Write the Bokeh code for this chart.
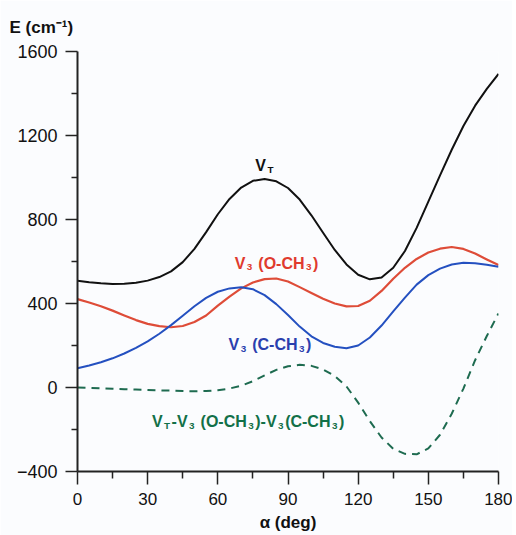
from bokeh.plotting import figure
from bokeh.models import Range1d, FixedTicker, Label, Title
from bokeh.embed import file_html
from bokeh.resources import INLINE

# ---- data ----
alpha_deg = [0, 5, 10, 15, 20, 25, 30, 35, 40, 45, 50, 55, 60, 65, 70, 75, 80, 85, 90,
             95, 100, 105, 110, 115, 120, 125, 130, 135, 140, 145, 150, 155, 160, 165,
             170, 175, 180]
v_total = [508, 501, 496, 493, 494, 499, 509, 526, 553, 597, 660, 740, 825, 898, 952,
           984, 993, 982, 950, 895, 820, 737, 655, 586, 537, 515, 524, 570, 650, 760,
           885, 1010, 1132, 1245, 1342, 1422, 1493]
v3_och3 = [421, 405, 387, 366, 343, 321, 303, 292, 287, 293, 312, 343, 390, 433, 472,
           500, 516, 519, 505, 478, 450, 423, 400, 386, 388, 413, 460, 518, 570, 612,
           643, 661, 669, 660, 638, 610, 583]
v3_cch3 = [92, 105, 120, 139, 162, 189, 220, 256, 297, 342, 387, 427, 456, 472, 477,
           468, 440, 397, 345, 290, 244, 212, 194, 187, 200, 238, 295, 362, 428, 490,
           535, 566, 586, 594, 592, 585, 575]
v_diff = [0, -2, -4, -6, -8, -10, -12, -14, -15, -17, -18, -17, -13, -5, 8, 30, 58, 84,
          101, 108, 103, 86, 55, 5, -72, -160, -238, -292, -316, -318, -290, -225,
          -125, -5, 130, 245, 353]

x_ticks = [0, 30, 60, 90, 120, 150, 180]
x_minor = [15, 45, 75, 105, 135, 165]
y_ticks = [-400, 0, 400, 800, 1200, 1600]
y_minor = [-200, 200, 600, 1000, 1400]

FONT = "Liberation Sans"
BG = "#fbfcfe"

p = figure(width=512, height=535, output_backend="svg", toolbar_location=None,
           x_range=Range1d(0, 180), y_range=Range1d(-400, 1600),
           min_border_left=77, min_border_right=14, min_border_top=51,
           min_border_bottom=64, background_fill_color=BG, border_fill_color=BG)
p.outline_line_color = None
p.grid.visible = False

for ax in (p.xaxis[0], p.yaxis[0]):
    ax.axis_line_width = 2
    ax.axis_line_color = "#222222"
    ax.major_tick_line_width = 1.5
    ax.minor_tick_line_width = 1.5
    ax.major_tick_line_color = "#222222"
    ax.minor_tick_line_color = "#222222"
    ax.major_tick_in = 0
    ax.minor_tick_in = 0
    ax.major_label_text_font = FONT
    ax.major_label_text_color = "#111111"
    ax.major_label_standoff = 8

p.xaxis[0].ticker = FixedTicker(ticks=x_ticks, minor_ticks=x_minor)
p.yaxis[0].ticker = FixedTicker(ticks=y_ticks, minor_ticks=y_minor)
p.xaxis[0].major_tick_out = 13
p.xaxis[0].minor_tick_out = 7
p.yaxis[0].major_tick_out = 12
p.yaxis[0].minor_tick_out = 6
p.xaxis[0].major_label_text_font_size = "17px"
p.yaxis[0].major_label_text_font_size = "18px"

# x axis title
p.xaxis[0].axis_label = "α (deg)"
p.xaxis[0].axis_label_text_font = FONT
p.xaxis[0].axis_label_text_font_style = "bold"
p.xaxis[0].axis_label_text_font_size = "17px"
p.xaxis[0].axis_label_text_color = "#111111"
p.xaxis[0].axis_label_standoff = 5

# y axis title (horizontal, top-left)
p.add_layout(Title(text="E (cm⁻¹)", align="left", offset=-68, standoff=30,
                   text_font=FONT, text_font_style="bold", text_font_size="17px",
                   text_color="#111111", text_line_height=1.0), "above")

# ---- curves ----
p.line(alpha_deg, v_total, line_color="#111111", line_width=2, line_join="round")
p.line(alpha_deg, v3_och3, line_color="#de4c38", line_width=2.2, line_join="round")
p.line(alpha_deg, v3_cch3, line_color="#2450c0", line_width=2, line_join="round")
p.line(alpha_deg, v_diff, line_color="#1e6b50", line_width=2, line_dash="8 6",
       line_join="round")

# ---- rich text labels ----
BOLD_W = {'V': 667, 'T': 611, '3': 556, '1': 556, ' ': 278, '(': 333, ')': 333,
          '-': 333, 'O': 778, 'C': 722, 'H': 722}


def text_w(s, fs):
    return sum(BOLD_W.get(ch, 600) for ch in s) * fs / 1000.0


def rich(x, y, segs, color, size):
    off = 0.0
    for txt, kind in segs:
        if kind == "sub":
            fs = size * 0.62
            dy = -size * 0.24
            off += 1.5
        else:
            fs = size
            dy = 0.0
        lead = len(txt) - len(txt.lstrip(" "))
        off += text_w(" " * lead, fs)
        txt = txt.lstrip(" ")
        p.add_layout(Label(x=x, y=y, x_offset=off, y_offset=dy, text=txt,
                           text_font=FONT, text_font_style="bold",
                           text_font_size=f"{fs:.1f}px", text_color=color,
                           text_align="left", text_baseline="alphabetic"))
        off += text_w(txt, fs)
        if kind == "sub":
            off += 1.5


rich(76.0, 1058, [("V", "n"), ("T", "sub")], "#111111", 16)
rich(67.2, 591, [("V", "n"), ("3", "sub"), (" (O-CH", "n"), ("3", "sub"), (")", "n")],
     "#e03a2e", 16)
rich(64.6, 203, [("V", "n"), ("3", "sub"), (" (C-CH", "n"), ("3", "sub"), (")", "n")],
     "#2a3fae", 16)
rich(31.8, -163, [("V", "n"), ("T", "sub"), ("-V", "n"), ("3", "sub"), (" (O-CH", "n"),
                  ("3", "sub"), (")-V", "n"), ("3", "sub"), ("(C-CH", "n"), ("3", "sub"),
                  (")", "n")], "#127048", 16)

open("out.html", "w").write(file_html(p, INLINE))
